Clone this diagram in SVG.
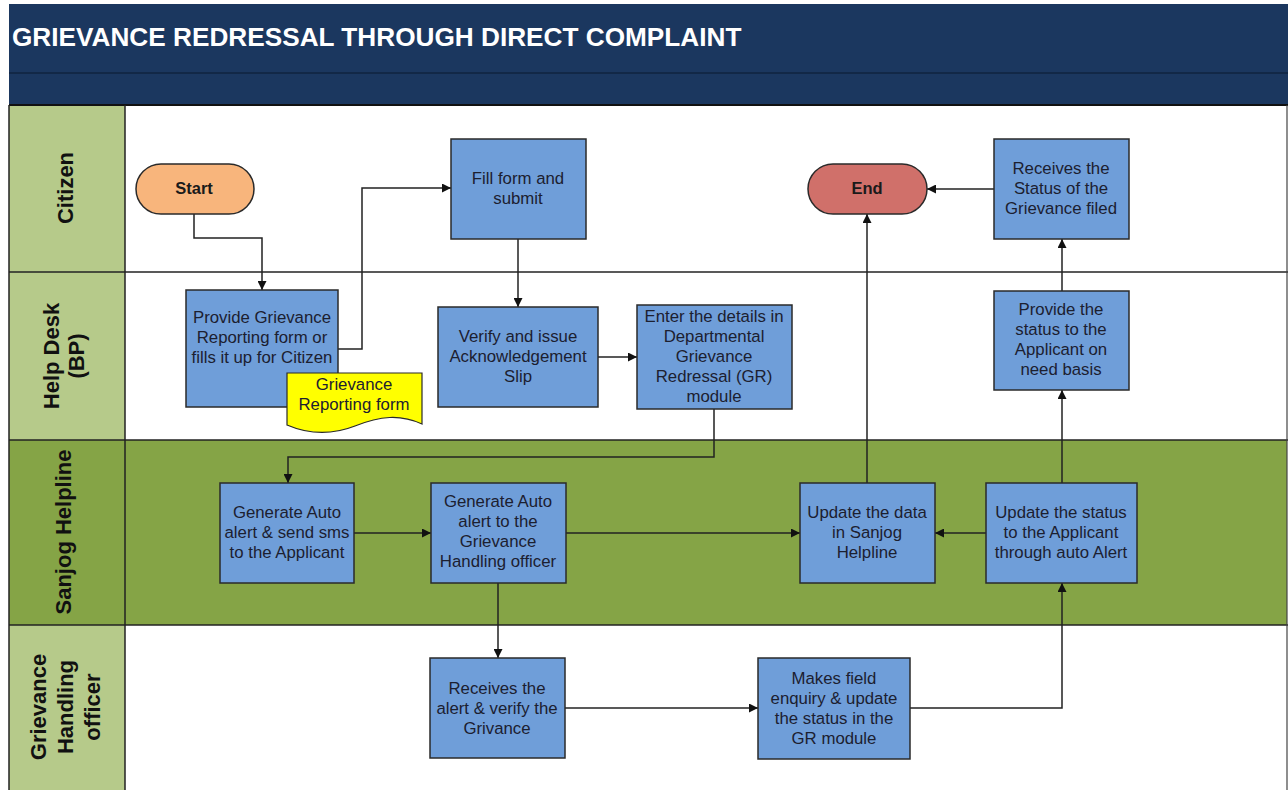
<svg xmlns="http://www.w3.org/2000/svg" width="1288" height="790" viewBox="0 0 1288 790">
<defs>
<marker id="ah" viewBox="0 0 10 10" refX="10" refY="5" markerWidth="9" markerHeight="9" markerUnits="userSpaceOnUse" orient="auto">
<path d="M0,0 L10,5 L0,10 Z" fill="#111"/>
</marker>
<style>
.box{fill:#6f9ed9;stroke:#2a2a2a;stroke-width:1.5}
.t{font-family:"Liberation Sans",Arial,sans-serif;font-size:16.8px;fill:#1c2030;text-anchor:middle}
.tb{font-family:"Liberation Sans",Arial,sans-serif;font-size:16.5px;font-weight:bold;fill:#1a1a1a;text-anchor:middle}
.lane{font-family:"Liberation Sans",Arial,sans-serif;font-size:22px;font-weight:bold;fill:#111;text-anchor:middle}
.c{fill:none;stroke:#222;stroke-width:1.5;marker-end:url(#ah)}
.sep{stroke:#222;stroke-width:1.5}
</style>
</defs>
<rect x="0" y="0" width="1288" height="790" fill="#ffffff"/>
<g id="header">
<rect x="9" y="4" width="1279" height="101" fill="#1b375f"/>
<line x1="9" y1="73" x2="1288" y2="73" stroke="#10243f" stroke-width="1.5"/>
<line x1="9" y1="105" x2="1288" y2="105" stroke="#111" stroke-width="2"/>
<text x="12" y="46" font-family="Liberation Sans,Arial,sans-serif" font-size="26.2" font-weight="bold" fill="#ffffff">GRIEVANCE REDRESSAL THROUGH DIRECT COMPLAINT</text>
</g>
<g id="lanes">
<rect x="9" y="106" width="116" height="166" fill="#b6ca8a"/>
<rect x="125" y="106" width="1162" height="166" fill="#ffffff"/>
<rect x="9" y="272" width="116" height="168" fill="#b6ca8a"/>
<rect x="125" y="272" width="1162" height="168" fill="#ffffff"/>
<rect x="9" y="440" width="1278" height="185" fill="#85a446"/>
<rect x="9" y="625" width="116" height="165" fill="#b6ca8a"/>
<rect x="125" y="625" width="1162" height="165" fill="#ffffff"/>
<line class="sep" x1="9" y1="272" x2="1288" y2="272"/>
<line class="sep" x1="9" y1="440" x2="1288" y2="440"/>
<line class="sep" x1="9" y1="625" x2="1288" y2="625"/>
<line class="sep" x1="125" y1="105" x2="125" y2="790"/>
<line class="sep" x1="9" y1="105" x2="9" y2="790" stroke="#555"/>
<line x1="1287" y1="105" x2="1287" y2="790" stroke="#444" stroke-width="1.2"/>
<text class="lane" transform="translate(73,188) rotate(-90)">Citizen</text>
<text class="lane" transform="translate(59,356) rotate(-90)">Help Desk</text>
<text class="lane" transform="translate(84,356) rotate(-90)">(BP)</text>
<text class="lane" transform="translate(71,532) rotate(-90)">Sanjog Helpline</text>
<text class="lane" transform="translate(46,707) rotate(-90)">Grievance</text>
<text class="lane" transform="translate(73,707) rotate(-90)">Handling</text>
<text class="lane" transform="translate(100,707) rotate(-90)">officer</text>
</g>
<g id="connectors">
<path class="c" d="M194,214 V238 H262 V290"/>
<path class="c" d="M338,349 H362 V188 H451"/>
<path class="c" d="M518,239 V307"/>
<path class="c" d="M598,357 H637"/>
<path class="c" d="M714,409 V457 H288 V483"/>
<path class="c" d="M354,533 H431"/>
<path class="c" d="M566,533 H800"/>
<path class="c" d="M498,583 V658"/>
<path class="c" d="M565,708 H758"/>
<path class="c" d="M910,708 H1062 V583"/>
<path class="c" d="M986,533 H935"/>
<path class="c" d="M1062,483 V390"/>
<path class="c" d="M1062,291 V239"/>
<path class="c" d="M994,189 H927"/>
<path class="c" d="M867,483 V214"/>
</g>
<g id="start">
<rect x="136" y="164" width="118" height="50" rx="25" ry="25" fill="#f8b57c" stroke="#2a2a2a" stroke-width="1.5"/>
<text class="tb" x="194" y="194">Start</text>
</g>
<g id="fill-form">
<rect class="box" x="451" y="139" width="135" height="100"/>
<text class="t" x="518" y="184">Fill form and</text>
<text class="t" x="518" y="204">submit</text>
</g>
<g id="end">
<rect x="808" y="164" width="119" height="50" rx="25" ry="25" fill="#d0706a" stroke="#2a2a2a" stroke-width="1.5"/>
<text class="tb" x="867" y="194">End</text>
</g>
<g id="receives-status">
<rect class="box" x="994" y="139" width="135" height="100"/>
<text class="t" x="1061" y="174">Receives the</text>
<text class="t" x="1061" y="194">Status of the</text>
<text class="t" x="1061" y="214">Grievance filed</text>
</g>
<g id="provide-form">
<rect class="box" x="186" y="290" width="152" height="117"/>
<text class="t" x="262" y="323">Provide Grievance</text>
<text class="t" x="262" y="343">Reporting form or</text>
<text class="t" x="262" y="363">fills it up for Citizen</text>
</g>
<g id="reporting-form-doc">
<path d="M287,373 H422 V424 C400,414 380,416 355,426 C332,435 308,434 287,425 Z" fill="#ffff00" stroke="#2a2a2a" stroke-width="1.2"/>
<text class="t" x="354" y="390">Grievance</text>
<text class="t" x="354" y="410">Reporting form</text>
</g>
<g id="verify">
<rect class="box" x="438" y="307" width="160" height="100"/>
<text class="t" x="518" y="342">Verify and issue</text>
<text class="t" x="518" y="362">Acknowledgement</text>
<text class="t" x="518" y="382">Slip</text>
</g>
<g id="enter-details">
<rect class="box" x="637" y="305" width="155" height="104"/>
<text class="t" x="714" y="322">Enter the details in</text>
<text class="t" x="714" y="342">Departmental</text>
<text class="t" x="714" y="362">Grievance</text>
<text class="t" x="714" y="382">Redressal (GR)</text>
<text class="t" x="714" y="402">module</text>
</g>
<g id="provide-status">
<rect class="box" x="994" y="291" width="135" height="99"/>
<text class="t" x="1061" y="315">Provide the</text>
<text class="t" x="1061" y="335">status to the</text>
<text class="t" x="1061" y="355">Applicant on</text>
<text class="t" x="1061" y="375">need basis</text>
</g>
<g id="generate-sms">
<rect class="box" x="220" y="483" width="134" height="100"/>
<text class="t" x="287" y="518">Generate Auto</text>
<text class="t" x="287" y="538">alert &amp; send sms</text>
<text class="t" x="287" y="558">to the Applicant</text>
</g>
<g id="generate-officer">
<rect class="box" x="431" y="483" width="135" height="100"/>
<text class="t" x="498" y="507">Generate Auto</text>
<text class="t" x="498" y="527">alert to the</text>
<text class="t" x="498" y="547">Grievance</text>
<text class="t" x="498" y="567">Handling officer</text>
</g>
<g id="update-data">
<rect class="box" x="800" y="483" width="135" height="100"/>
<text class="t" x="867" y="518">Update the data</text>
<text class="t" x="867" y="538">in Sanjog</text>
<text class="t" x="867" y="558">Helpline</text>
</g>
<g id="update-status">
<rect class="box" x="986" y="483" width="151" height="100"/>
<text class="t" x="1061" y="518">Update the status</text>
<text class="t" x="1061" y="538">to the Applicant</text>
<text class="t" x="1061" y="558">through auto Alert</text>
</g>
<g id="receives-alert">
<rect class="box" x="430" y="658" width="135" height="100"/>
<text class="t" x="497" y="694">Receives the</text>
<text class="t" x="497" y="714">alert &amp; verify the</text>
<text class="t" x="497" y="734">Grivance</text>
</g>
<g id="field-enquiry">
<rect class="box" x="758" y="658" width="152" height="101"/>
<text class="t" x="834" y="684">Makes field</text>
<text class="t" x="834" y="704">enquiry &amp; update</text>
<text class="t" x="834" y="724">the status in the</text>
<text class="t" x="834" y="744">GR module</text>
</g>
</svg>
